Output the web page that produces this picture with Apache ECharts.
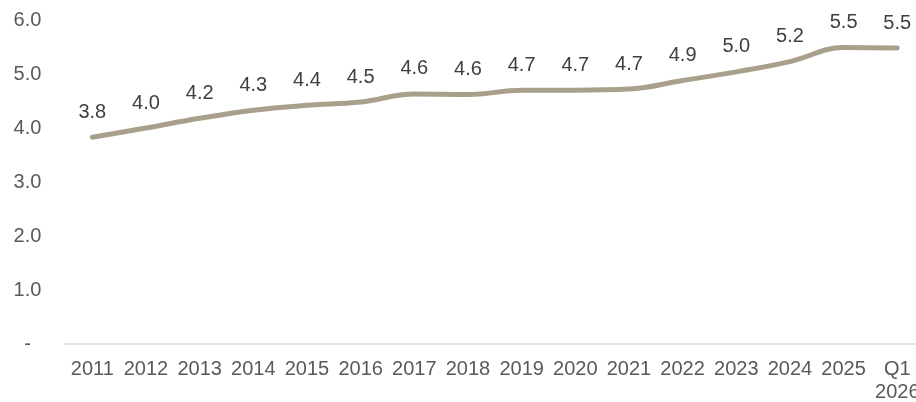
<!DOCTYPE html>
<html>
<head>
<meta charset="utf-8">
<script src="https://cdn.jsdelivr.net/npm/echarts@6/dist/echarts.min.js"></script>
<style>
html,body{margin:0;padding:0;background:#fff;}
#chart{width:916px;height:402px;}
</style>
</head>
<body>
<div id="chart"></div>
<script>
const categories = ['2011','2012','2013','2014','2015','2016','2017','2018','2019','2020','2021','2022','2023','2024','2025','Q1\n2026'];
const values = [3.83, 4.00, 4.18, 4.33, 4.42, 4.48, 4.63, 4.62, 4.70, 4.70, 4.72, 4.88, 5.04, 5.23, 5.49, 5.48];
const yTicks = [0, 1, 2, 3, 4, 5, 6];

const chart = echarts.init(document.getElementById('chart'));
chart.setOption({
  animation: false,
  grid: { left: 65.5, width: 858.6, top: 20, bottom: 58, containLabel: false, outerBoundsMode: 'none' },
  xAxis: {
    type: 'category',
    data: categories,
    boundaryGap: true,
    axisLine: { show: true, lineStyle: { color: '#d9d9d9', width: 1.5 } },
    axisTick: { show: false },
    axisLabel: {
      interval: 0,
      color: '#595959',
      fontFamily: 'Liberation Sans, Arial, sans-serif',
      fontSize: 20,
      lineHeight: 23,
      margin: 14
    }
  },
  yAxis: {
    type: 'value',
    min: yTicks[0],
    max: yTicks[yTicks.length - 1],
    interval: 1,
    splitLine: { show: false },
    axisLine: { show: false },
    axisTick: { show: false },
    axisLabel: {
      color: '#595959',
      fontFamily: 'Liberation Sans, Arial, sans-serif',
      fontSize: 20,
      align: 'center',
      margin: 38,
      formatter: v => v === 0 ? '-' : v.toFixed(1)
    }
  },
  series: [{
    type: 'line',
    data: values,
    smooth: 0.4,
    symbol: 'circle',
    symbolSize: 1,
    showSymbol: true,
    itemStyle: { color: 'rgba(0,0,0,0)', borderWidth: 0 },
    lineStyle: { color: '#A8A08A', width: 5, cap: 'round' },
    label: {
      show: true,
      position: 'top',
      distance: 14.5,
      color: '#404040',
      fontFamily: 'Liberation Sans, Arial, sans-serif',
      fontSize: 20,
      formatter: p => p.value.toFixed(1)
    }
  }]
});
</script>
</body>
</html>
